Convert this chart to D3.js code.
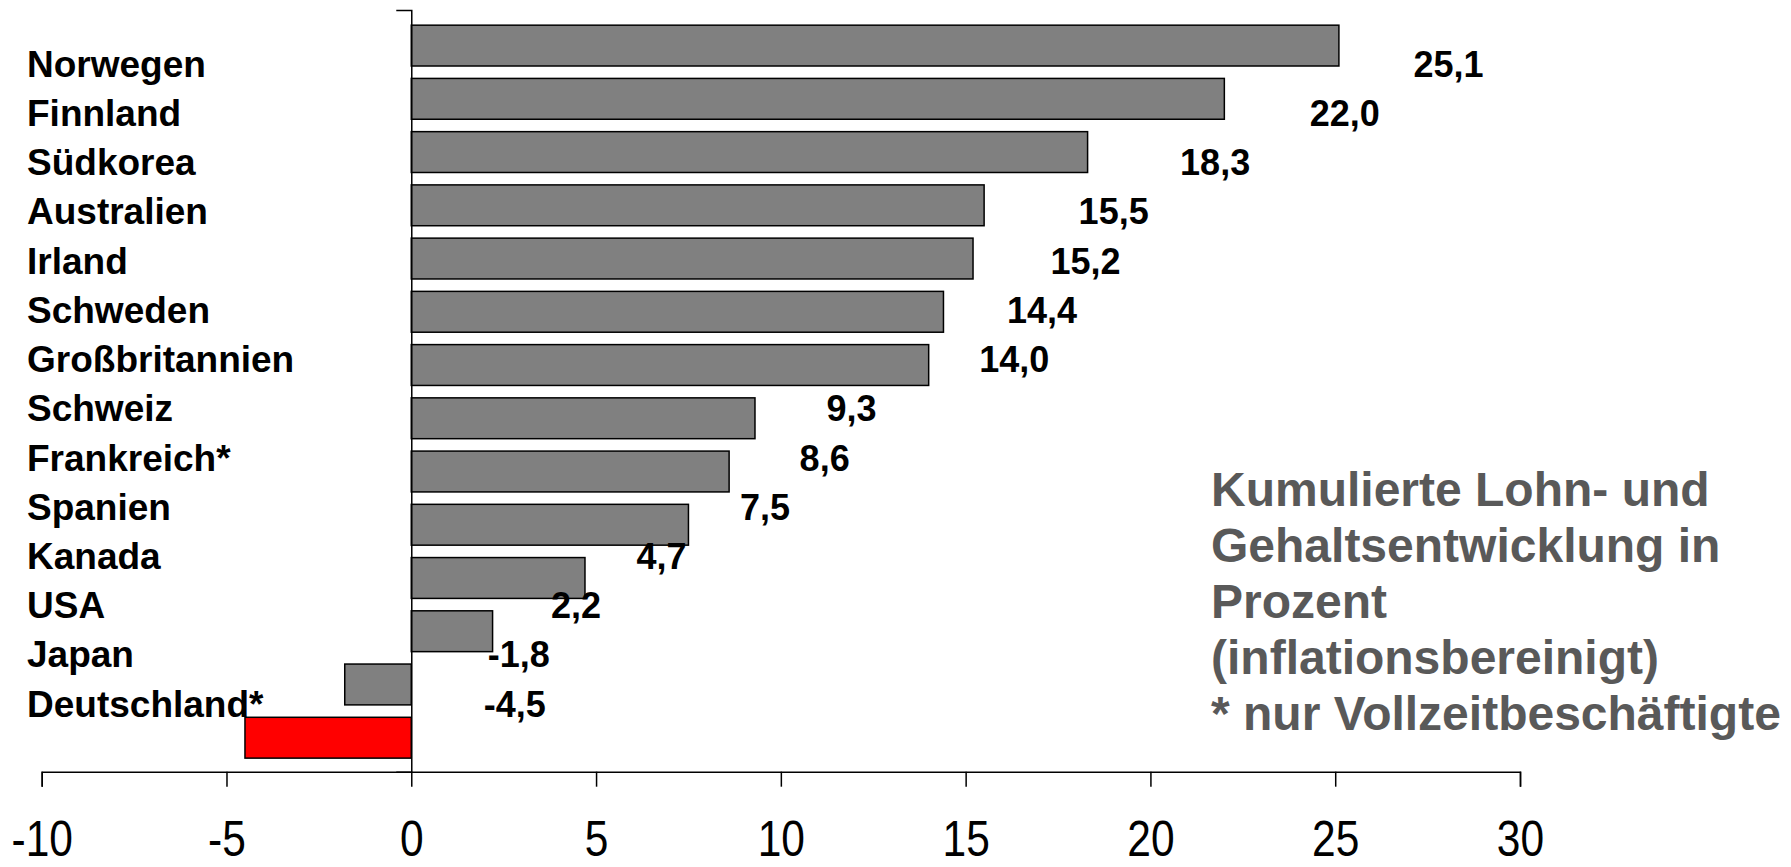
<!DOCTYPE html>
<html lang="de">
<head>
<meta charset="utf-8">
<script src="https://cdn.jsdelivr.net/npm/d3@7"></script>
<style>
  html, body { margin: 0; padding: 0; background: #fff; }
  svg { display: block; }
  text { font-family: "Liberation Sans", Arial, sans-serif; }
</style>
</head>
<body>
<svg id="chart" width="1791" height="867"></svg>
<script>
// Kumulierte reale Lohnentwicklung je Land (in %)
const categories = ["Norwegen", "Finnland", "Südkorea", "Australien", "Irland", "Schweden",
  "Großbritannien", "Schweiz", "Frankreich*", "Spanien", "Kanada", "USA", "Japan", "Deutschland*"];
const values = [25.1, 22.0, 18.3, 15.5, 15.2, 14.4, 14.0, 9.3, 8.6, 7.5, 4.7, 2.2, -1.8, -4.5];
const highlight = "Deutschland*";
const xTicks = [-10, -5, 0, 5, 10, 15, 20, 25, 30];
const noteLines = ["Kumulierte Lohn- und", "Gehaltsentwicklung in", "Prozent",
  "(inflationsbereinigt)", "* nur Vollzeitbeschäftigte"];

// Layout: horizontal shift of each value label past its bar end (px)
const labelShift = [74, 85, 92, 94, 77, 63, 50, 71, 70, 51, 51, 58, 76, 72];

const de = d3.formatLocale({ decimal: ",", thousands: ".", grouping: [3], currency: ["", " €"], minus: "-" });
const fmtValue = de.format(".1f");
const fmtTick = de.format("d");

const svg = d3.select("#chart");

const x = d3.scaleLinear().domain([-10, 30]).range([41.7, 1520]);
const y = d3.scaleBand().domain(categories).range([10, 771.7])
  .paddingInner(0.233).paddingOuter(0.27);
// text rows (baselines) for the category names and value labels
const row = d3.scalePoint().domain(categories).range([76.7, 716.7]);

// bars
svg.append("g").selectAll("rect")
  .data(categories)
  .join("rect")
  .attr("x", (d, i) => x(Math.min(0, values[i])))
  .attr("y", d => y(d) + 0.8)
  .attr("width", (d, i) => Math.abs(x(values[i]) - x(0)))
  .attr("height", y.bandwidth())
  .attr("fill", d => d === highlight ? "#ff0000" : "#808080")
  .attr("stroke", "#000")
  .attr("stroke-width", 1.5);

// x axis
const xAxis = svg.append("g")
  .attr("transform", "translate(0,771.7)")
  .call(d3.axisBottom(x).tickValues(xTicks).tickFormat(fmtTick).tickSize(15).tickSizeOuter(15));
xAxis.select(".domain").attr("stroke", "#000").attr("stroke-width", 1.5);
xAxis.selectAll(".tick line").attr("stroke", "#000").attr("stroke-width", 1.5);
xAxis.selectAll(".tick text")
  .attr("y", 84.5).attr("dy", null)
  .attr("transform", "scale(0.85,1)")
  .attr("fill", "#000")
  .style("font-family", "'Liberation Sans', Arial, sans-serif")
  .style("font-size", "50px");

// y axis (line at zero with an outer tick at the top)
const yAxis = svg.append("g")
  .attr("transform", `translate(${x(0)},0)`)
  .call(d3.axisLeft(y).tickValues([]).tickSizeOuter(15));
yAxis.select(".domain").attr("stroke", "#000").attr("stroke-width", 1.5);

// category names
svg.append("g").selectAll("text")
  .data(categories)
  .join("text")
  .attr("x", 27)
  .attr("y", d => row(d))
  .attr("font-size", 37)
  .attr("font-weight", "bold")
  .attr("fill", "#000")
  .text(d => d);

// value labels
svg.append("g").selectAll("text")
  .data(categories)
  .join("text")
  .attr("x", (d, i) => x(Math.max(0, values[i])) + labelShift[i] + 0.5)
  .attr("y", d => row(d))
  .attr("font-size", 36)
  .attr("font-weight", "bold")
  .attr("fill", "#000")
  .text((d, i) => fmtValue(values[i]));

// explanatory note
svg.append("g").selectAll("text")
  .data(noteLines)
  .join("text")
  .attr("x", 1211)
  .attr("y", (d, i) => 505.7 + i * 56.1)
  .attr("font-size", 48)
  .attr("font-weight", "bold")
  .attr("fill", "#595959")
  .text(d => d);
</script>
</body>
</html>
